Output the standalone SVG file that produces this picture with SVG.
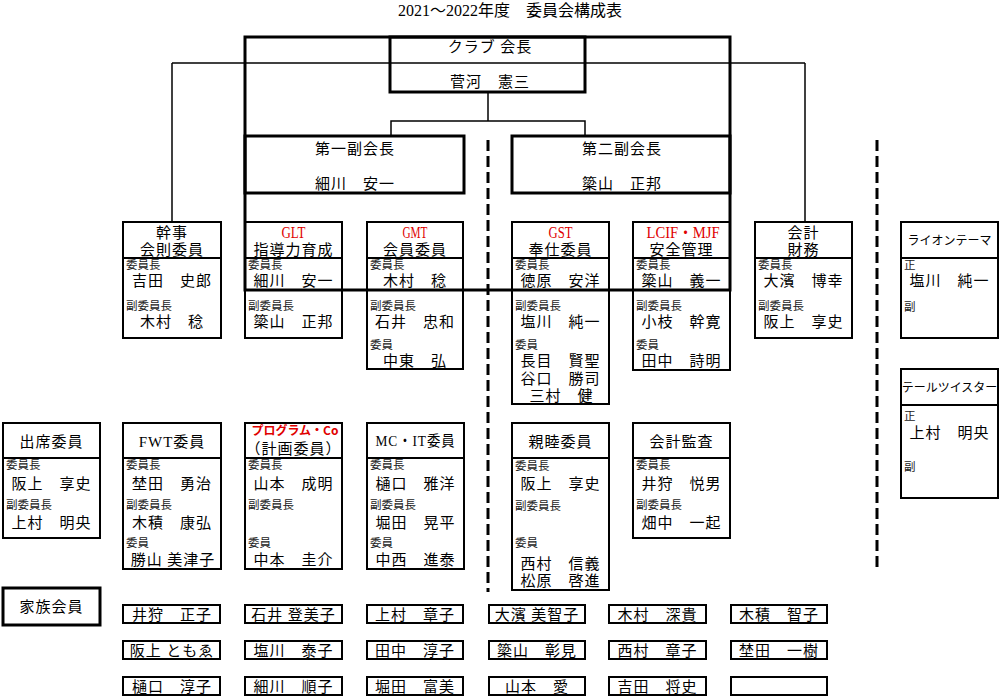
<svg xmlns="http://www.w3.org/2000/svg" width="1000" height="698" viewBox="0 0 1000 698">
<style>
.bg{fill:#fff}
.box{fill:none;stroke:#000;stroke-width:2}
.thk{fill:none;stroke:#000;stroke-width:3}
.conn{fill:none;stroke:#000;stroke-width:1.5}
.dash{fill:none;stroke:#000;stroke-width:3;stroke-dasharray:11 5}
text{font-family:"Noto Sans CJK JP","Noto Sans",sans-serif;font-size:15px;letter-spacing:1px;fill:#000;text-anchor:middle}
.s{font-size:11.5px;letter-spacing:0;text-anchor:start;fill:#222}
.h12{font-size:12px;letter-spacing:0}
.red{fill:#e00000;font-family:"Liberation Serif","Noto Sans CJK JP",serif;letter-spacing:0;font-size:16px}
.redg{fill:#e00000;font-size:12px;font-weight:bold;letter-spacing:0}
.ser{font-family:"Liberation Serif","Noto Sans CJK JP",serif}
.ttl{font-family:"Liberation Serif","Noto Sans CJK JP",serif;font-size:16px;letter-spacing:0}
</style>
<rect class="bg" x="0" y="0" width="1000" height="698"/>
<text class="ttl" x="510" y="16">2021～2022年度　委員会構成表</text>

<g id="connectors">
<line class="conn" x1="172" y1="63" x2="805" y2="63"/>
<line class="conn" x1="172" y1="63" x2="172" y2="222"/>
<line class="conn" x1="805" y1="63" x2="805" y2="222"/>
<line class="conn" x1="488" y1="92" x2="488" y2="121"/>
<polyline class="conn" points="391,136 391,121 585,121 585,136"/>
<line class="dash" x1="488" y1="140" x2="488" y2="592"/>
<line class="dash" x1="877" y1="140" x2="877" y2="568"/>
</g>

<g id="frame"><rect class="thk" x="245" y="37" width="485" height="253"/></g>

<g id="president">
<rect class="thk" x="390" y="37" width="195" height="55"/>
<text x="490" y="52">クラブ 会長</text>
<text x="490" y="87">菅河　憲三</text>
</g>

<g id="vp1">
<rect class="thk" x="245" y="136" width="219" height="57"/>
<text x="355" y="154">第一副会長</text>
<text x="355" y="189">細川　安一</text>
</g>
<g id="vp2">
<rect class="thk" x="512" y="136" width="218" height="57"/>
<text x="622" y="154">第二副会長</text>
<text x="622" y="189">簗山　正邦</text>
</g>

<g id="kanji">
<rect class="box" x="123" y="222" width="98" height="116"/>
<line class="box" x1="123" y1="258" x2="221" y2="258"/>
<text x="172" y="238">幹事</text>
<text x="172" y="255">会則委員</text>
<text class="s" x="126" y="269">委員長</text>
<text x="172" y="286">吉田　史郎</text>
<text class="s" x="126" y="310">副委員長</text>
<text x="172" y="327">木村　稔</text>
</g>

<g id="glt">
<rect class="box" x="245" y="222" width="97" height="116"/>
<line class="box" x1="245" y1="258" x2="342" y2="258"/>
<text class="red" x="293.5" y="238" textLength="24" lengthAdjust="spacingAndGlyphs">GLT</text>
<text x="293.5" y="255">指導力育成</text>
<text class="s" x="248" y="269">委員長</text>
<text x="293.5" y="286">細川　安一</text>
<text class="s" x="248" y="310">副委員長</text>
<text x="293.5" y="327">簗山　正邦</text>
</g>

<g id="gmt">
<rect class="box" x="367" y="222" width="96" height="147"/>
<line class="box" x1="367" y1="258" x2="463" y2="258"/>
<text class="red" x="415" y="238" textLength="25" lengthAdjust="spacingAndGlyphs">GMT</text>
<text x="415" y="255">会員委員</text>
<text class="s" x="370" y="269">委員長</text>
<text x="415" y="286">木村　稔</text>
<text class="s" x="370" y="310">副委員長</text>
<text x="415" y="327">石井　忠和</text>
<text class="s" x="370" y="349">委員</text>
<text x="415" y="366">中東　弘</text>
</g>

<g id="gst">
<rect class="box" x="512" y="222" width="97" height="182"/>
<line class="box" x1="512" y1="258" x2="609" y2="258"/>
<text class="red" x="560.5" y="238" textLength="24" lengthAdjust="spacingAndGlyphs">GST</text>
<text x="560.5" y="255">奉仕委員</text>
<text class="s" x="515" y="269">委員長</text>
<text x="560.5" y="286">徳原　安洋</text>
<text class="s" x="515" y="310">副委員長</text>
<text x="560.5" y="327">塩川　純一</text>
<text class="s" x="515" y="349">委員</text>
<text x="560.5" y="366">長目　賢聖</text>
<text x="560.5" y="384">谷口　勝司</text>
<text x="561.5" y="401">三村　健</text>
</g>

<g id="lcif">
<rect class="box" x="633" y="222" width="97" height="148"/>
<line class="box" x1="633" y1="258" x2="730" y2="258"/>
<text class="red" x="683" y="238" textLength="73" lengthAdjust="spacingAndGlyphs">LCIF・MJF</text>
<text x="681.5" y="255">安全管理</text>
<text class="s" x="636" y="269">委員長</text>
<text x="681.5" y="286">簗山　義一</text>
<text class="s" x="636" y="310">副委員長</text>
<text x="681.5" y="327">小枝　幹寛</text>
<text class="s" x="636" y="349">委員</text>
<text x="681.5" y="366">田中　詩明</text>
</g>

<g id="kaikei">
<rect class="box" x="755" y="222" width="97" height="116"/>
<line class="box" x1="755" y1="258" x2="852" y2="258"/>
<text x="803.5" y="238">会計</text>
<text x="803.5" y="255">財務</text>
<text class="s" x="758" y="269">委員長</text>
<text x="803.5" y="286">大濱　博幸</text>
<text class="s" x="758" y="310">副委員長</text>
<text x="803.5" y="327">阪上　享史</text>
</g>

<g id="liontheme">
<rect class="box" x="901" y="222" width="97" height="116"/>
<line class="box" x1="901" y1="258" x2="998" y2="258"/>
<text class="h12" x="949.5" y="245">ライオンテーマ</text>
<text class="s" x="904" y="269">正</text>
<text x="949.5" y="286">塩川　純一</text>
<text class="s" x="904" y="311">副</text>
</g>

<g id="tailtwister">
<rect class="box" x="901" y="369" width="97" height="129"/>
<line class="box" x1="901" y1="405" x2="998" y2="405"/>
<text class="h12" x="949.5" y="392">テールツイスター</text>
<text class="s" x="904" y="420">正</text>
<text x="949.5" y="438">上村　明央</text>
<text class="s" x="904" y="471">副</text>
</g>

<g id="shusseki">
<rect class="box" x="3" y="423" width="97" height="115"/>
<line class="box" x1="3" y1="458" x2="100" y2="458"/>
<text x="51.5" y="447">出席委員</text>
<text class="s" x="6" y="469">委員長</text>
<text x="51.5" y="489">阪上　享史</text>
<text class="s" x="6" y="509">副委員長</text>
<text x="51.5" y="528">上村　明央</text>
</g>

<g id="fwt">
<rect class="box" x="123" y="423" width="98" height="146"/>
<line class="box" x1="123" y1="458" x2="221" y2="458"/>
<text x="172" y="447"><tspan class="ser">FWT</tspan>委員</text>
<text class="s" x="126" y="469">委員長</text>
<text x="172" y="489">埜田　勇治</text>
<text class="s" x="126" y="509">副委員長</text>
<text x="172" y="528">木積　康弘</text>
<text class="s" x="126" y="547">委員</text>
<text x="173" y="565">勝山 美津子</text>
</g>

<g id="program">
<rect class="box" x="245" y="423" width="97" height="146"/>
<line class="box" x1="245" y1="458" x2="342" y2="458"/>
<text class="redg" x="295" y="435">プログラム・Co</text>
<text x="293.5" y="454">（計画委員）</text>
<text class="s" x="248" y="469">委員長</text>
<text x="293.5" y="489">山本　成明</text>
<text class="s" x="248" y="509">副委員長</text>
<text class="s" x="248" y="547">委員</text>
<text x="293.5" y="565">中本　圭介</text>
</g>

<g id="mcit">
<rect class="box" x="367" y="423" width="97" height="146"/>
<line class="box" x1="367" y1="458" x2="464" y2="458"/>
<text x="415.5" y="446" textLength="80" lengthAdjust="spacingAndGlyphs"><tspan class="ser">MC・IT</tspan>委員</text>
<text class="s" x="370" y="469">委員長</text>
<text x="415.5" y="489">樋口　雅洋</text>
<text class="s" x="370" y="509">副委員長</text>
<text x="415.5" y="528">堀田　晃平</text>
<text class="s" x="370" y="547">委員</text>
<text x="415.5" y="565">中西　進泰</text>
</g>

<g id="shinboku">
<rect class="box" x="512" y="423" width="97" height="167"/>
<line class="box" x1="512" y1="458" x2="609" y2="458"/>
<text x="560.5" y="447">親睦委員</text>
<text class="s" x="515" y="470">委員長</text>
<text x="560.5" y="489">阪上　享史</text>
<text class="s" x="515" y="510">副委員長</text>
<text class="s" x="515" y="547">委員</text>
<text x="560.5" y="569">西村　信義</text>
<text x="560.5" y="586">松原　啓進</text>
</g>

<g id="kansa">
<rect class="box" x="633" y="423" width="97" height="115"/>
<line class="box" x1="633" y1="458" x2="730" y2="458"/>
<text x="681.5" y="447">会計監査</text>
<text class="s" x="636" y="469">委員長</text>
<text x="681.5" y="489">井狩　悦男</text>
<text class="s" x="636" y="509">副委員長</text>
<text x="681.5" y="528">畑中　一起</text>
</g>

<g id="family">
<rect class="thk" x="3" y="588" width="97" height="37"/>
<text x="51.5" y="612">家族会員</text>
</g>

<g id="family-members">
<rect class="box" x="123" y="605" width="97" height="18"/><text x="172" y="620">井狩　正子</text>
<rect class="box" x="245" y="605" width="97" height="18"/><text x="293.5" y="620">石井 登美子</text>
<rect class="box" x="367" y="605" width="96" height="18"/><text x="415" y="620">上村　章子</text>
<rect class="box" x="489" y="605" width="96" height="18"/><text x="537" y="620">大濱 美智子</text>
<rect class="box" x="609" y="605" width="97" height="18"/><text x="657.5" y="620">木村　深貴</text>
<rect class="box" x="731" y="605" width="96" height="18"/><text x="779" y="620">木積　智子</text>

<rect class="box" x="123" y="641" width="97" height="18"/><text x="172" y="656">阪上 ともゑ</text>
<rect class="box" x="245" y="641" width="97" height="18"/><text x="293.5" y="656">塩川　泰子</text>
<rect class="box" x="367" y="641" width="96" height="18"/><text x="415" y="656">田中　淳子</text>
<rect class="box" x="489" y="641" width="96" height="18"/><text x="537" y="656">簗山　彰見</text>
<rect class="box" x="609" y="641" width="97" height="18"/><text x="657.5" y="656">西村　章子</text>
<rect class="box" x="731" y="641" width="96" height="18"/><text x="779" y="656">埜田　一樹</text>

<rect class="box" x="123" y="677" width="97" height="18"/><text x="172" y="692">樋口　淳子</text>
<rect class="box" x="245" y="677" width="97" height="18"/><text x="293.5" y="692">細川　順子</text>
<rect class="box" x="367" y="677" width="96" height="18"/><text x="415" y="692">堀田　富美</text>
<rect class="box" x="489" y="677" width="96" height="18"/><text x="537" y="692">山本　愛</text>
<rect class="box" x="609" y="677" width="97" height="18"/><text x="657.5" y="692">吉田　将史</text>
<rect class="box" x="731" y="677" width="96" height="18"/>
</g>
</svg>
